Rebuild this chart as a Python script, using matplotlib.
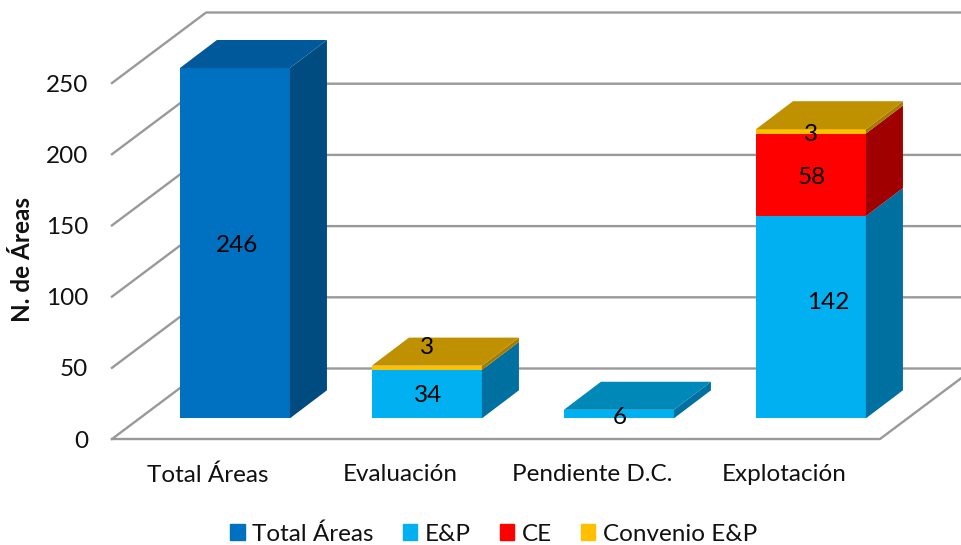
import matplotlib
matplotlib.use('Agg')
import matplotlib.pyplot as plt
from matplotlib.patches import Patch

plt.rcParams['font.family'] = ['Lato', 'DejaVu Sans']

categories = ['Total Áreas', 'Evaluación', 'Pendiente D.C.', 'Explotación']
total_areas = [246, 0, 0, 0]
ep = [0, 34, 6, 142]
ce = [0, 0, 0, 58]
convenio = [0, 3, 0, 3]
yticks = [0, 50, 100, 150, 200, 250]

series = [
    ('Total Áreas', total_areas, '#0070C0', '#00599A', '#004B80'),
    ('E&P', ep, '#00B0F0', '#0088B8', '#0070A0'),
    ('CE', ce, '#FF0000', '#C00000', '#A00000'),
    ('Convenio E&P', convenio, '#FFC000', '#BF9000', '#A67C00'),
]
# nudges of the data labels, in pixels
label_shift = {(1, 3): (0, 20), (3, 3): (0, -3), (3, 1): (17, 15), (2, 1): (1, -3), (1, 1): (1, -1),
               (3, 2): (1, -3), (0, 0): (2, -2)}

GRID = '#999999'
wall_dx, wall_dy = 0.49, 49.5     # depth of the floor
off_dx = 0.14                     # where the bars start inside the floor
base = 14.5
bar_dx, bar_dy = 0.193, 19.7      # depth of the bars
width = 0.573

fig = plt.figure(figsize=(9.61, 5.45), dpi=100)
ax = fig.add_axes([112 / 961, (545 - 439) / 545, 768 / 961, 356 / 545])
ax.set_xlim(-0.5, 3.5)
ax.set_ylim(0, 250)

# walls and floor
for v in yticks:
    ax.plot([-0.5, -0.5 + wall_dx, 3.5 + wall_dx], [v, v + wall_dy, v + wall_dy],
            color=GRID, lw=1.7, clip_on=False, zorder=1)
ax.plot([-0.5, 3.5, 3.5 + wall_dx], [0, 0, wall_dy], color=GRID, lw=1.7, clip_on=False, zorder=1)

for i in range(len(categories)):
    x0 = i - width / 2 + off_dx
    x1 = x0 + width
    bottom = base
    top_seen = None
    for s, (name, vals, front, top, side) in enumerate(series):
        v = vals[i]
        if v == 0:
            continue
        y0 = bottom
        y1 = y0 + v
        ax.fill([x0, x1, x1, x0], [y0, y0, y1, y1], color=front, lw=0, clip_on=False, zorder=3)
        ax.fill([x1, x1 + bar_dx, x1 + bar_dx, x1], [y0, y0 + bar_dy, y1 + bar_dy, y1],
                color=side, lw=0, clip_on=False, zorder=3)
        top_seen = (y1, top)
        sx, sy = label_shift.get((i, s), (0, 0))
        ax.annotate(str(v), ((x0 + x1) / 2, (y0 + y1) / 2), xytext=(sx, sy), textcoords='offset pixels',
                    ha='center', va='center', fontsize=17.5, color='black', zorder=5, annotation_clip=False)
        bottom += v
    y1, top = top_seen
    ax.fill([x0, x1, x1 + bar_dx, x0 + bar_dx], [y1, y1, y1 + bar_dy, y1 + bar_dy],
            color=top, lw=0, clip_on=False, zorder=4)

for sp in ax.spines.values():
    sp.set_visible(False)
ax.patch.set_visible(False)
ax.set_xticks(range(len(categories)))
ax.set_xticklabels(categories, fontsize=17.5, color='#111111')
ax.set_yticks(yticks)
ax.tick_params(axis='y', labelsize=17.5, length=0, pad=17, labelcolor='#111111')
ax.tick_params(axis='x', length=0, pad=18)
fig.text(23 / 961, 1 - 260 / 545, 'N. de Áreas', rotation=90, fontsize=17.5, fontweight='bold',
         ha='center', va='center', color='#111111')

handles = [Patch(color=c[2], label=c[0]) for c in series]
fig.legend(handles=handles, ncol=4, loc='center', bbox_to_anchor=(493.5 / 961, 1 - 534 / 545), frameon=False,
           fontsize=17.5, handlelength=0.6, handleheight=0.6, handletextpad=0.3, columnspacing=1.2,
           borderpad=0, labelcolor='#111111')

fig.savefig('out.png', dpi=100)
